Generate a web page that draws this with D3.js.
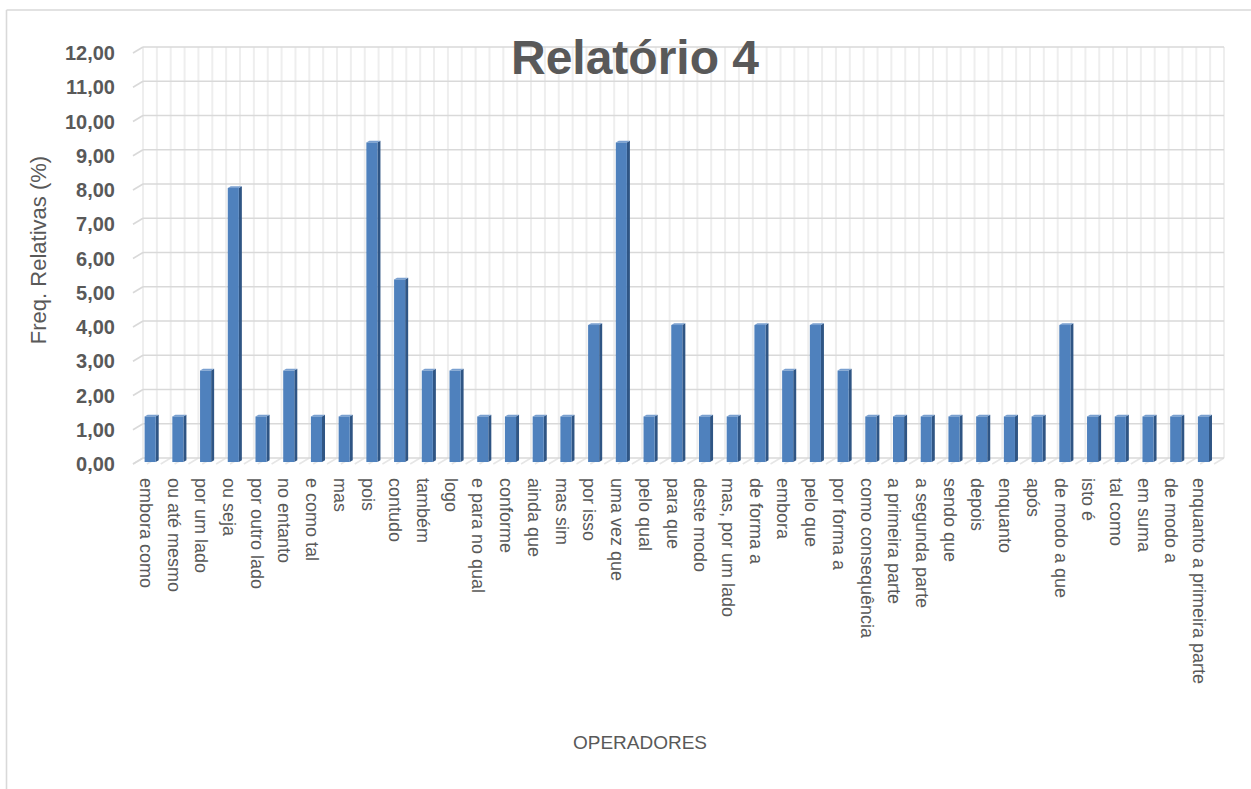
<!DOCTYPE html>
<html>
<head>
<meta charset="utf-8">
<script src="https://cdn.jsdelivr.net/npm/d3@7"></script>
<style>
  body { margin: 0; background: #fff; }
  text { font-family: Arial, "Liberation Sans", sans-serif; }
</style>
</head>
<body>
<svg id="chart" width="1251" height="789"></svg>
<script>
// Operators and their relative frequencies (%)
const categories = [
  "embora como", "ou até mesmo", "por um lado", "ou seja", "por outro lado",
  "no entanto", "e como tal", "mas", "pois", "contudo", "também", "logo",
  "e para no qual", "conforme", "ainda que", "mas sim", "por isso", "uma vez que",
  "pelo qual", "para que", "deste modo", "mas, por um lado", "de forma a", "embora",
  "pelo que", "por forma a", "como consequência", "a primeira parte", "a segunda parte",
  "sendo que", "depois", "enquanto", "após", "de modo a que", "isto é", "tal como",
  "em suma", "de modo a", "enquanto a primeira parte"
];
const values = [
  1.33, 1.33, 2.67, 8.00, 1.33,
  2.67, 1.33, 1.33, 9.33, 5.33, 2.67, 2.67,
  1.33, 1.33, 1.33, 1.33, 4.00, 9.33,
  1.33, 4.00, 1.33, 1.33, 4.00, 2.67,
  4.00, 2.67, 1.33, 1.33, 1.33,
  1.33, 1.33, 1.33, 1.33, 4.00, 1.33, 1.33,
  1.33, 1.33, 1.33
];
const yTicks = [0, 1, 2, 3, 4, 5, 6, 7, 8, 9, 10, 11, 12];
const chartTitle = "Relatório 4";
const yTitle = "Freq. Relativas (%)";
const xTitle = "OPERADORES";

const svg = d3.select("#chart");
const data = categories.map((c, i) => ({ cat: c, value: values[i] }));

// Front plane of the 3D box; the back wall is offset by (DX, DY)
const DX = 10, DY = -6;
const x = d3.scaleBand().domain(categories).range([133, 1214]).paddingInner(0.6).paddingOuter(0.3);
const y = d3.scaleLinear().domain([0, 12]).range([464, 53]);
const step = x.step();
const xLeft = 133, xRight = 1214;

// Outer frame
svg.append("line").attr("x1", 6.5).attr("x2", 1251).attr("y1", 10).attr("y2", 10)
  .attr("stroke", "#d9d9d9").attr("stroke-width", 1.6);
svg.append("line").attr("x1", 6.5).attr("x2", 6.5).attr("y1", 10).attr("y2", 789)
  .attr("stroke", "#d9d9d9").attr("stroke-width", 1.6);

const grid = svg.append("g");

// Vertical gridlines on the back wall (every half category)
const halfSteps = d3.range(0, categories.length * 2 + 1);
grid.selectAll("line.vgrid").data(halfSteps).join("line")
  .attr("class", "vgrid")
  .attr("x1", k => xLeft + DX + k * step / 2)
  .attr("x2", k => xLeft + DX + k * step / 2)
  .attr("y1", y(12) + DY).attr("y2", y(0) + DY)
  .attr("stroke", "#eeeeee").attr("stroke-width", 2);

// Floor depth lines
grid.selectAll("line.fgrid").data(halfSteps).join("line")
  .attr("class", "fgrid")
  .attr("x1", k => xLeft + k * step / 2)
  .attr("x2", k => xLeft + DX + k * step / 2)
  .attr("y1", y(0)).attr("y2", y(0) + DY)
  .attr("stroke", "#e6e6e6").attr("stroke-width", 1.5);

// Horizontal gridlines on back wall and side wall
grid.selectAll("line.hgrid").data(yTicks).join("line")
  .attr("class", "hgrid")
  .attr("x1", xLeft + DX).attr("x2", xRight + DX)
  .attr("y1", d => y(d) + DY).attr("y2", d => y(d) + DY)
  .attr("stroke", "#d9d9d9").attr("stroke-width", 1.6);
grid.selectAll("line.sgrid").data(yTicks).join("line")
  .attr("class", "sgrid")
  .attr("x1", xLeft).attr("x2", xLeft + DX)
  .attr("y1", d => y(d)).attr("y2", d => y(d) + DY)
  .attr("stroke", "#d9d9d9").attr("stroke-width", 1.6);

// 3D columns
const t0 = 0.33, d = 0.3;
const bars = svg.append("g").selectAll("g.bar").data(data).join("g").attr("class", "bar");
bars.each(function (b) {
  const g = d3.select(this);
  const x0 = x(b.cat) + t0 * DX, x1 = x0 + x.bandwidth();
  const yb = y(0) + t0 * DY, yt = y(b.value) + t0 * DY;
  const ox = d * DX, oy = d * DY;
  g.append("polygon")
    .attr("points", [[x1, yt], [x1 + ox, yt + oy], [x1 + ox, yb + oy], [x1, yb]].join(" "))
    .attr("fill", "#2f5584");
  g.append("polygon")
    .attr("points", [[x0, yt], [x1, yt], [x1 + ox, yt + oy], [x0 + ox, yt + oy]].join(" "))
    .attr("fill", "#7aa0d0");
  g.append("rect")
    .attr("x", x0).attr("y", yt).attr("width", x1 - x0).attr("height", yb - yt)
    .attr("fill", "#4f81bd");
});

// Y tick labels
const fmt = v => d3.format(".2f")(v).replace(".", ",");
svg.append("g").selectAll("text").data(yTicks).join("text")
  .attr("x", 115).attr("y", d => y(d))
  .attr("text-anchor", "end").attr("dominant-baseline", "central")
  .attr("font-size", 20).attr("font-weight", "bold").attr("fill", "#595959")
  .text(fmt);

// Category labels, rotated
svg.append("g").selectAll("text").data(categories).join("text")
  .attr("transform", c => `translate(${x(c) + x.bandwidth() / 2 - 1},478) rotate(90)`)
  .attr("text-anchor", "start").attr("dominant-baseline", "central")
  .attr("font-size", 18).attr("fill", "#595959")
  .text(c => c);

// Titles
svg.append("text").attr("x", 635).attr("y", 74)
  .attr("text-anchor", "middle").attr("font-size", 48).attr("font-weight", "bold")
  .attr("fill", "#595959").text(chartTitle);
svg.append("text").attr("transform", "translate(38,250) rotate(-90)")
  .attr("text-anchor", "middle").attr("dominant-baseline", "central")
  .attr("font-size", 22).attr("fill", "#595959").text(yTitle);
svg.append("text").attr("x", 640).attr("y", 742)
  .attr("text-anchor", "middle").attr("dominant-baseline", "central")
  .attr("font-size", 19).attr("fill", "#595959").text(xTitle);
</script>
</body>
</html>
